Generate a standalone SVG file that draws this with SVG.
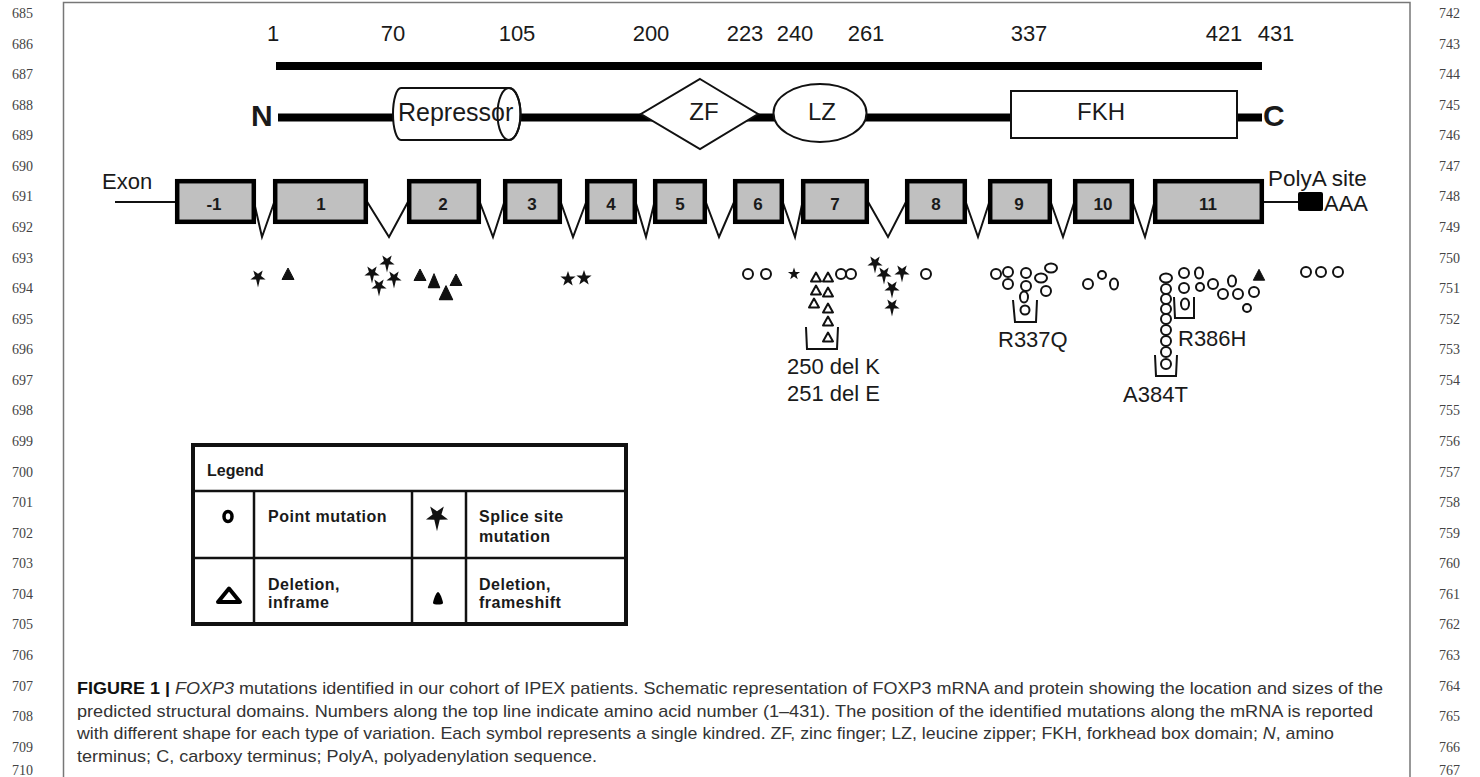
<svg xmlns="http://www.w3.org/2000/svg" xmlns:xlink="http://www.w3.org/1999/xlink" width="1480" height="777" viewBox="0 0 1480 777">
<defs>
<style>
.ln{font-family:"Liberation Serif","Times New Roman",serif;font-size:14px;fill:#444}
.t{font-family:"Liberation Sans",Arial,sans-serif;fill:#1a1a1a;stroke:none}
.num{font-size:22px;text-anchor:middle}
.dom{font-size:24px;text-anchor:middle}
.term{font-size:30px;font-weight:bold}
.ex{fill:#c0c0c0;stroke:#000;stroke-width:4.5}
.exl{font-size:17px;font-weight:bold;text-anchor:middle}
.lbl{font-size:22px}
.pm{fill:#fff;stroke:#111;stroke-width:2}
.sp{fill:#111}
.fs{fill:#111;stroke:#111;stroke-width:1;stroke-linejoin:round}
.ifd{fill:#fff;stroke:#111;stroke-width:2;stroke-linejoin:round}
.br{fill:none;stroke:#111;stroke-width:2}
.intron{fill:none;stroke:#111;stroke-width:2}
.lg{font-size:16px;font-weight:bold;letter-spacing:0.5px}
.cap{font-family:"Liberation Sans",Arial,sans-serif;font-size:17px;fill:#333}
</style>
<path id="splice" d="M0,10.5 L-1.88,2.59 L-7.61,2.47 L-3.04,-0.99 L-4.7,-6.47 L0,-3.2 L4.7,-6.47 L3.04,-0.99 L7.61,2.47 L1.88,2.59 Z"/>
<path id="star" d="M0,-8 L1.88,-2.59 L7.61,-2.47 L3.04,0.99 L4.7,6.47 L0,3.2 L-4.7,6.47 L-3.04,0.99 L-7.61,-2.47 L-1.88,-2.59 Z"/>
<path id="ftri" d="M0,-6 L6,5.5 L-6,5.5 Z"/>
<path id="otri" d="M0,-4.5 L5,4.5 L-5,4.5 Z"/>
</defs>

<rect width="1480" height="777" fill="#fff"/>

<!-- page frame -->
<g id="frame" fill="none" stroke="#777" stroke-width="1.5">
<path d="M63.5,790 V2.5 H1410 V790"/>
</g>

<!-- line numbers -->
<g id="line-numbers-left" class="ln">
<text x="12" y="18">685</text><text x="12" y="48.6">686</text><text x="12" y="79.1">687</text><text x="12" y="109.7">688</text><text x="12" y="140.3">689</text><text x="12" y="170.9">690</text><text x="12" y="201.4">691</text><text x="12" y="232">692</text><text x="12" y="262.6">693</text><text x="12" y="293.1">694</text><text x="12" y="323.7">695</text><text x="12" y="354.3">696</text><text x="12" y="384.8">697</text><text x="12" y="415.4">698</text><text x="12" y="446">699</text><text x="12" y="476.6">700</text><text x="12" y="507.1">701</text><text x="12" y="537.7">702</text><text x="12" y="568.3">703</text><text x="12" y="598.8">704</text><text x="12" y="629.4">705</text><text x="12" y="660">706</text><text x="12" y="690.5">707</text><text x="12" y="721.1">708</text><text x="12" y="751.7">709</text><text x="12" y="775">710</text>
</g>
<g id="line-numbers-right" class="ln">
<text x="1439" y="18">742</text><text x="1439" y="48.6">743</text><text x="1439" y="79.1">744</text><text x="1439" y="109.7">745</text><text x="1439" y="140.3">746</text><text x="1439" y="170.9">747</text><text x="1439" y="201.4">748</text><text x="1439" y="232">749</text><text x="1439" y="262.6">750</text><text x="1439" y="293.1">751</text><text x="1439" y="323.7">752</text><text x="1439" y="354.3">753</text><text x="1439" y="384.8">754</text><text x="1439" y="415.4">755</text><text x="1439" y="446">756</text><text x="1439" y="476.6">757</text><text x="1439" y="507.1">758</text><text x="1439" y="537.7">759</text><text x="1439" y="568.3">760</text><text x="1439" y="598.8">761</text><text x="1439" y="629.4">762</text><text x="1439" y="660">763</text><text x="1439" y="690.5">764</text><text x="1439" y="721.1">765</text><text x="1439" y="751.7">766</text><text x="1439" y="775">767</text>
</g>

<!-- amino acid scale -->
<g id="aa-scale">
<rect x="276" y="62" width="986" height="8" fill="#000"/>
<g class="t num">
<text x="273" y="41">1</text><text x="393" y="41">70</text><text x="517" y="41">105</text><text x="651" y="41">200</text><text x="745" y="41">223</text><text x="795" y="41">240</text><text x="866" y="41">261</text><text x="1029" y="41">337</text><text x="1224" y="41">421</text><text x="1276" y="41">431</text>
</g>
</g>

<!-- protein -->
<g id="protein-backbone">
<line x1="278" y1="117.5" x2="1262" y2="117.5" stroke="#000" stroke-width="8"/>
<text class="t term" x="251" y="126">N</text>
<text class="t term" x="1263" y="126">C</text>
</g>
<g id="repressor">
<path d="M401,88 H509 A11.5,26 0 0 1 509,140 H401 A8,26 0 0 1 401,88 Z" fill="#fff" stroke="#111" stroke-width="2"/>
<ellipse cx="509" cy="114" rx="11.5" ry="26" fill="none" stroke="#111" stroke-width="2"/>
<text class="t" x="398" y="121" font-size="25">Repressor</text>
</g>
<g id="zf">
<path d="M700,79 L758,114 L700,149 L641,114 Z" fill="#fff" stroke="#111" stroke-width="2"/>
<text class="t dom" x="704" y="120">ZF</text>
</g>
<g id="lz">
<ellipse cx="820" cy="113" rx="46.5" ry="29" fill="#fff" stroke="#111" stroke-width="2"/>
<text class="t dom" x="822" y="120">LZ</text>
</g>
<g id="fkh">
<rect x="1011" y="91" width="226" height="47" fill="#fff" stroke="#111" stroke-width="2"/>
<text class="t dom" x="1101" y="120">FKH</text>
</g>

<!-- connectors: mRNA lines and introns -->
<g id="connectors">
<line x1="115" y1="202" x2="177" y2="202" stroke="#111" stroke-width="2"/>
<line x1="1262" y1="202" x2="1299" y2="202" stroke="#111" stroke-width="2"/>
<path class="intron" d="M254,202 L262,237 L275,200"/>
<path class="intron" d="M366,200 L389,237 L409,200"/>
<path class="intron" d="M479,200 L493,237 L505,200"/>
<path class="intron" d="M560,200 L573,237 L587,200"/>
<path class="intron" d="M635,200 L646,237 L655,200"/>
<path class="intron" d="M705,200 L719,237 L735,200"/>
<path class="intron" d="M782,200 L795,237 L803,200"/>
<path class="intron" d="M867,200 L888,237 L907,200"/>
<path class="intron" d="M965,200 L978,237 L990,200"/>
<path class="intron" d="M1050,200 L1063,237 L1075,200"/>
<path class="intron" d="M1132,200 L1145,237 L1155,200"/>
</g>

<!-- exons -->
<text class="t" x="102" y="189" font-size="22">Exon</text>
<g id="exon-m1"><rect class="ex" x="177.2" y="181.2" width="76.6" height="40.6"/><text class="t exl" x="214" y="210">-1</text></g>
<g id="exon-1"><rect class="ex" x="275.2" y="181.2" width="90.6" height="40.6"/><text class="t exl" x="321" y="210">1</text></g>
<g id="exon-2"><rect class="ex" x="409.2" y="181.2" width="69.6" height="40.6"/><text class="t exl" x="443" y="210">2</text></g>
<g id="exon-3"><rect class="ex" x="505.2" y="181.2" width="54.6" height="40.6"/><text class="t exl" x="532" y="210">3</text></g>
<g id="exon-4"><rect class="ex" x="587.2" y="181.2" width="47.6" height="40.6"/><text class="t exl" x="611" y="210">4</text></g>
<g id="exon-5"><rect class="ex" x="655.2" y="181.2" width="49.6" height="40.6"/><text class="t exl" x="680" y="210">5</text></g>
<g id="exon-6"><rect class="ex" x="735.2" y="181.2" width="46.6" height="40.6"/><text class="t exl" x="758" y="210">6</text></g>
<g id="exon-7"><rect class="ex" x="803.2" y="181.2" width="63.6" height="40.6"/><text class="t exl" x="835" y="210">7</text></g>
<g id="exon-8"><rect class="ex" x="907.2" y="181.2" width="57.6" height="40.6"/><text class="t exl" x="936" y="210">8</text></g>
<g id="exon-9"><rect class="ex" x="990.2" y="181.2" width="59.6" height="40.6"/><text class="t exl" x="1019" y="210">9</text></g>
<g id="exon-10"><rect class="ex" x="1075.2" y="181.2" width="56.6" height="40.6"/><text class="t exl" x="1103" y="210">10</text></g>
<g id="exon-11"><rect class="ex" x="1155.2" y="181.2" width="106.6" height="40.6"/><text class="t exl" x="1208" y="210">11</text></g>
<g id="polya">
<rect x="1298" y="192" width="25" height="19" rx="2" fill="#000"/>
<text class="t" x="1324" y="211" font-size="22">AAA</text>
<text class="t" x="1268" y="186" font-size="22.5">PolyA site</text>
</g>

<!-- mutations -->
<g id="splice-mutations" class="sp">
<use xlink:href="#splice" transform="translate(258,277)"/>
<use xlink:href="#splice" transform="translate(387,262)"/>
<use xlink:href="#splice" transform="translate(372,273)"/>
<use xlink:href="#splice" transform="translate(394,278)"/>
<use xlink:href="#splice" transform="translate(379,286)"/>
<use xlink:href="#star" transform="translate(568,279)"/>
<use xlink:href="#star" transform="translate(584,278)"/>
<use xlink:href="#star" transform="translate(794,274) scale(0.8)"/>
<use xlink:href="#splice" transform="translate(875,263)"/>
<use xlink:href="#splice" transform="translate(884,274)"/>
<use xlink:href="#splice" transform="translate(902,272)"/>
<use xlink:href="#splice" transform="translate(892,288)"/>
<use xlink:href="#splice" transform="translate(892,306)"/>
</g>
<g id="frameshift-deletions" class="fs">
<use xlink:href="#ftri" transform="translate(288,274)"/>
<use xlink:href="#ftri" transform="translate(420,275)"/>
<use xlink:href="#ftri" transform="translate(434,281) scale(0.95,1.2)"/>
<use xlink:href="#ftri" transform="translate(456,280)"/>
<use xlink:href="#ftri" transform="translate(446,293) scale(1.1,1.2)"/>
<use xlink:href="#ftri" transform="translate(1259,275) scale(0.95)"/>
</g>
<g id="inframe-deletions">
<g class="ifd">
<use xlink:href="#otri" transform="translate(816,277)"/>
<use xlink:href="#otri" transform="translate(828,277)"/>
<use xlink:href="#otri" transform="translate(816,290)"/>
<use xlink:href="#otri" transform="translate(828,292)"/>
<use xlink:href="#otri" transform="translate(814,303)"/>
<use xlink:href="#otri" transform="translate(828,308)"/>
<use xlink:href="#otri" transform="translate(828,321)"/>
<use xlink:href="#otri" transform="translate(828,337)"/>
</g>
<path class="br" d="M806,327 L807,349 L837,349 L838,327"/>
<text class="t lbl" x="787" y="374">250 del K</text>
<text class="t lbl" x="787" y="401">251 del E</text>
</g>
<g id="point-mutations">
<circle class="pm" cx="748" cy="274" r="5"/>
<circle class="pm" cx="766" cy="274" r="5"/>
<circle class="pm" cx="841" cy="274" r="5"/>
<circle class="pm" cx="851" cy="274" r="5"/>
<circle class="pm" cx="926" cy="274" r="5"/>
<circle class="pm" cx="1088" cy="284" r="5"/>
<circle class="pm" cx="1102" cy="275" r="4"/>
<ellipse class="pm" cx="1114" cy="284" rx="4" ry="5.5"/>
<circle class="pm" cx="1306" cy="272" r="5"/>
<circle class="pm" cx="1321" cy="272" r="5"/>
<circle class="pm" cx="1338" cy="272" r="5"/>
</g>
<g id="r337q">
<circle class="pm" cx="996" cy="274" r="5"/>
<circle class="pm" cx="1008" cy="272" r="5"/>
<circle class="pm" cx="1008" cy="284" r="5"/>
<circle class="pm" cx="1026" cy="273" r="5"/>
<circle class="pm" cx="1026" cy="286" r="5"/>
<ellipse class="pm" cx="1024" cy="297" rx="4" ry="5.5"/>
<ellipse class="pm" cx="1041" cy="278" rx="6" ry="4.5"/>
<ellipse class="pm" cx="1051" cy="268" rx="6" ry="4.5"/>
<circle class="pm" cx="1046" cy="291" r="5"/>
<circle class="pm" cx="1025" cy="310" r="4.5"/>
<path class="br" d="M1013,300 L1015,322 L1036,322 L1037,300"/>
<text class="t lbl" x="998" y="347">R337Q</text>
</g>
<g id="a384t">
<ellipse class="pm" cx="1166" cy="278" rx="6" ry="4.5"/>
<circle class="pm" cx="1166" cy="289" r="5"/>
<circle class="pm" cx="1166" cy="299" r="5"/>
<circle class="pm" cx="1166" cy="309" r="5"/>
<circle class="pm" cx="1166" cy="319" r="5"/>
<circle class="pm" cx="1166" cy="330" r="5"/>
<circle class="pm" cx="1166" cy="341" r="5"/>
<circle class="pm" cx="1166" cy="352" r="5"/>
<circle class="pm" cx="1166" cy="364" r="5"/>
<path class="br" d="M1155,355 L1156,376 L1176,376 L1177,355"/>
<text class="t lbl" x="1123" y="402">A384T</text>
</g>
<g id="r386h">
<circle class="pm" cx="1184" cy="273" r="5"/>
<circle class="pm" cx="1184" cy="288" r="5"/>
<ellipse class="pm" cx="1185" cy="304" rx="4" ry="5.5"/>
<path class="br" d="M1174,297 L1175,318 L1194,318 L1194,297"/>
<text class="t lbl" x="1178" y="346">R386H</text>
<ellipse class="pm" cx="1199" cy="273" rx="4" ry="5.5"/>
<circle class="pm" cx="1200" cy="287" r="4"/>
<circle class="pm" cx="1213" cy="284" r="5"/>
<circle class="pm" cx="1223" cy="294" r="5"/>
<ellipse class="pm" cx="1232" cy="281" rx="4" ry="5.5"/>
<circle class="pm" cx="1238" cy="294" r="5"/>
<circle class="pm" cx="1254" cy="292" r="5"/>
<circle class="pm" cx="1247" cy="308" r="4"/>
</g>

<!-- legend -->
<g id="legend">
<rect x="193" y="445" width="433" height="179" fill="#fff" stroke="#111" stroke-width="4"/>
<g stroke="#111" stroke-width="2.5">
<line x1="193" y1="491" x2="626" y2="491"/>
<line x1="193" y1="558" x2="626" y2="558"/>
<line x1="254" y1="491" x2="254" y2="624"/>
<line x1="412" y1="491" x2="412" y2="624"/>
<line x1="466" y1="491" x2="466" y2="624"/>
</g>
<text class="t" x="207" y="476" font-size="16" font-weight="bold">Legend</text>
<ellipse cx="228" cy="516.5" rx="4" ry="5" fill="#fff" stroke="#000" stroke-width="3.5"/>
<text class="t lg" x="268" y="522">Point mutation</text>
<use xlink:href="#splice" class="sp" transform="translate(437,516) scale(1.45)"/>
<text class="t lg" x="479" y="522">Splice site</text>
<text class="t lg" x="479" y="542">mutation</text>
<path d="M229,588.5 L240,602 L218,602 Z" fill="#fff" stroke="#000" stroke-width="4" stroke-linejoin="round"/>
<text class="t lg" x="268" y="590">Deletion,</text>
<text class="t lg" x="268" y="608">inframe</text>
<path d="M438,592 C440,592 443,601 443,603 C443,605 433,605 433,603 C433,601 436,592 438,592 Z" fill="#000"/>
<text class="t lg" x="479" y="590">Deletion,</text>
<text class="t lg" x="479" y="608">frameshift</text>
</g>

<!-- caption -->
<g id="caption" class="cap">
<text x="77" y="694" textLength="1306" lengthAdjust="spacingAndGlyphs"><tspan font-weight="bold" fill="#111">FIGURE 1 | </tspan><tspan font-style="italic">FOXP3</tspan> mutations identified in our cohort of IPEX patients. Schematic representation of FOXP3 mRNA and protein showing the location and sizes of the</text>
<text x="77" y="717" textLength="1296" lengthAdjust="spacingAndGlyphs">predicted structural domains. Numbers along the top line indicate amino acid number (1–431). The position of the identified mutations along the mRNA is reported</text>
<text x="77" y="739" textLength="1257" lengthAdjust="spacingAndGlyphs">with different shape for each type of variation. Each symbol represents a single kindred. ZF, zinc finger; LZ, leucine zipper; FKH, forkhead box domain; <tspan font-style="italic">N</tspan>, amino</text>
<text x="77" y="762" textLength="520" lengthAdjust="spacingAndGlyphs">terminus; C, carboxy terminus; PolyA, polyadenylation sequence.</text>
</g>
</svg>
